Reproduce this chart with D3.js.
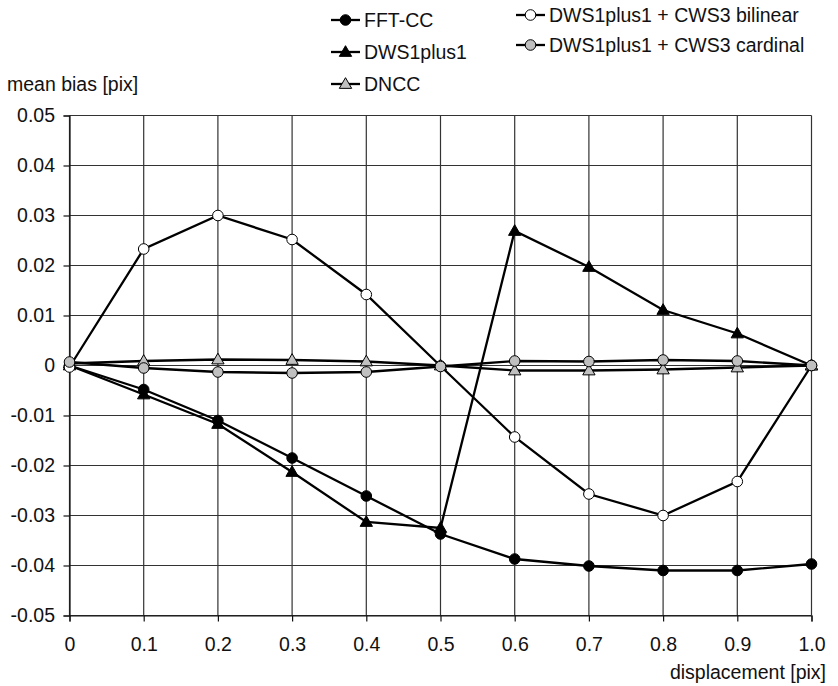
<!DOCTYPE html>
<html>
<head>
<meta charset="UTF-8">
<script src="https://d3js.org/d3.v7.min.js"></script>
<style>
  body { margin: 0; background: #fff; }
  text { font-family: "Liberation Sans", Arial, sans-serif; fill: #111; }
</style>
</head>
<body>
<script>
const displacement = [0, 0.1, 0.2, 0.3, 0.4, 0.5, 0.6, 0.7, 0.8, 0.9, 1.0];
const xTickLabels = ["0", "0.1", "0.2", "0.3", "0.4", "0.5", "0.6", "0.7", "0.8", "0.9", "1.0"];
const yTicks = [0.05, 0.04, 0.03, 0.02, 0.01, 0, -0.01, -0.02, -0.03, -0.04, -0.05];

const fftCC      = [0, -0.0048, -0.0110, -0.0185, -0.0261, -0.0337, -0.0387, -0.0401, -0.0410, -0.0410, -0.0397];
const dws1plus1  = [0, -0.0058, -0.0117, -0.0213, -0.0313, -0.0325, 0.0269, 0.0197, 0.0111, 0.0064, 0];
const dncc       = [0.0004, 0.0009, 0.0012, 0.0011, 0.0008, 0, -0.0010, -0.0010, -0.0008, -0.0004, 0];
const bilinear   = [-0.0003, 0.0233, 0.0300, 0.0252, 0.0142, -0.0001, -0.0143, -0.0257, -0.0300, -0.0232, 0];
const cardinal   = [0.0007, -0.0005, -0.0013, -0.0015, -0.0013, -0.0002, 0.0009, 0.0008, 0.0011, 0.0009, 0];

const series = [
  { name: "FFT-CC", values: fftCC, shape: "circle", fill: "#000" },
  { name: "DWS1plus1", values: dws1plus1, shape: "triangle", fill: "#000" },
  { name: "DNCC", values: dncc, shape: "triangle", fill: "#c0c0c0" },
  { name: "DWS1plus1 + CWS3 bilinear", values: bilinear, shape: "circle", fill: "#fff" },
  { name: "DWS1plus1 + CWS3 cardinal", values: cardinal, shape: "circle", fill: "#c0c0c0" }
];

const W = 838, H = 686, FS = 19.5;
const svg = d3.select("body").append("svg").attr("width", W).attr("height", H);

const x = d3.scaleLinear().domain([0, 1]).range([69.5, 811.5]);
const y = d3.scaleLinear().domain([-0.05, 0.05]).range([615.5, 115.5]);

// grid
const grid = svg.append("g").attr("stroke", "#333").attr("stroke-width", 1.2);
grid.selectAll("line.v").data(displacement).join("line")
  .attr("x1", d => x(d)).attr("x2", d => x(d))
  .attr("y1", y(0.05)).attr("y2", y(-0.05));
grid.selectAll("line.h").data(yTicks).join("line")
  .attr("x1", x(0)).attr("x2", x(1))
  .attr("y1", d => y(d)).attr("y2", d => y(d));

// axes
const axisY = d3.axisLeft(y).tickValues(yTicks).tickSize(6).tickPadding(8.5)
  .tickFormat(d => d === 0 ? "0" : d3.format(".2f")(d).replace("−", "-"));
const gY = svg.append("g").attr("transform", `translate(${x(0)},0)`);
axisY(gY);
const axisX = d3.axisBottom(x).tickValues(displacement).tickSize(6).tickPadding(16)
  .tickFormat((d, i) => xTickLabels[i]);
const gX = svg.append("g").attr("transform", `translate(0,${y(-0.05)})`);
axisX(gX);
[gX, gY].forEach(g => {
  g.select(".domain").attr("stroke", "#111").attr("stroke-width", 1.2);
  g.selectAll(".tick line").attr("stroke", "#111").attr("stroke-width", 1.2);
  g.selectAll("text").attr("font-size", FS).attr("font-family", "Liberation Sans, Arial, sans-serif").attr("fill", "#111");
});

svg.append("text").attr("x", 7).attr("y", 91).attr("font-size", FS).text("mean bias [pix]");
svg.append("text").attr("x", 826).attr("y", 679).attr("font-size", FS).attr("text-anchor", "end").text("displacement [pix]");

const line = d3.line().x((d, i) => x(displacement[i])).y(d => y(d));
const tri = d3.symbol().type(d3.symbolTriangle).size(66);

function marker(g, s) {
  if (s.shape === "circle") {
    g.append("circle").attr("r", 5.3).attr("fill", s.fill).attr("stroke", "#000").attr("stroke-width", 1);
  } else {
    g.append("path").attr("d", tri()).attr("fill", s.fill).attr("stroke", "#000").attr("stroke-width", 1)
      .attr("transform", "translate(0,0.8)");
  }
}

series.forEach(s => {
  svg.append("path").datum(s.values).attr("d", line)
    .attr("fill", "none").attr("stroke", "#000").attr("stroke-width", 2.3);
  s.values.forEach((v, i) => {
    const g = svg.append("g").attr("transform", `translate(${x(displacement[i])},${y(v)})`);
    marker(g, s);
  });
});

// legend
const legendPos = [
  { lx: 331, ty: 20 }, { lx: 331, ty: 52 }, { lx: 331, ty: 84 },
  { lx: 516, ty: 15 }, { lx: 516, ty: 45 }
];
series.forEach((s, i) => {
  const p = legendPos[i];
  const g = svg.append("g").attr("transform", `translate(${p.lx},${p.ty})`);
  g.append("line").attr("x1", 0).attr("x2", 29).attr("stroke", "#000").attr("stroke-width", 2.3);
  marker(g.append("g").attr("transform", "translate(14.5,0)"), s);
  g.append("text").attr("x", 33).attr("y", 7).attr("font-size", FS).text(s.name);
});
</script>
</body>
</html>
